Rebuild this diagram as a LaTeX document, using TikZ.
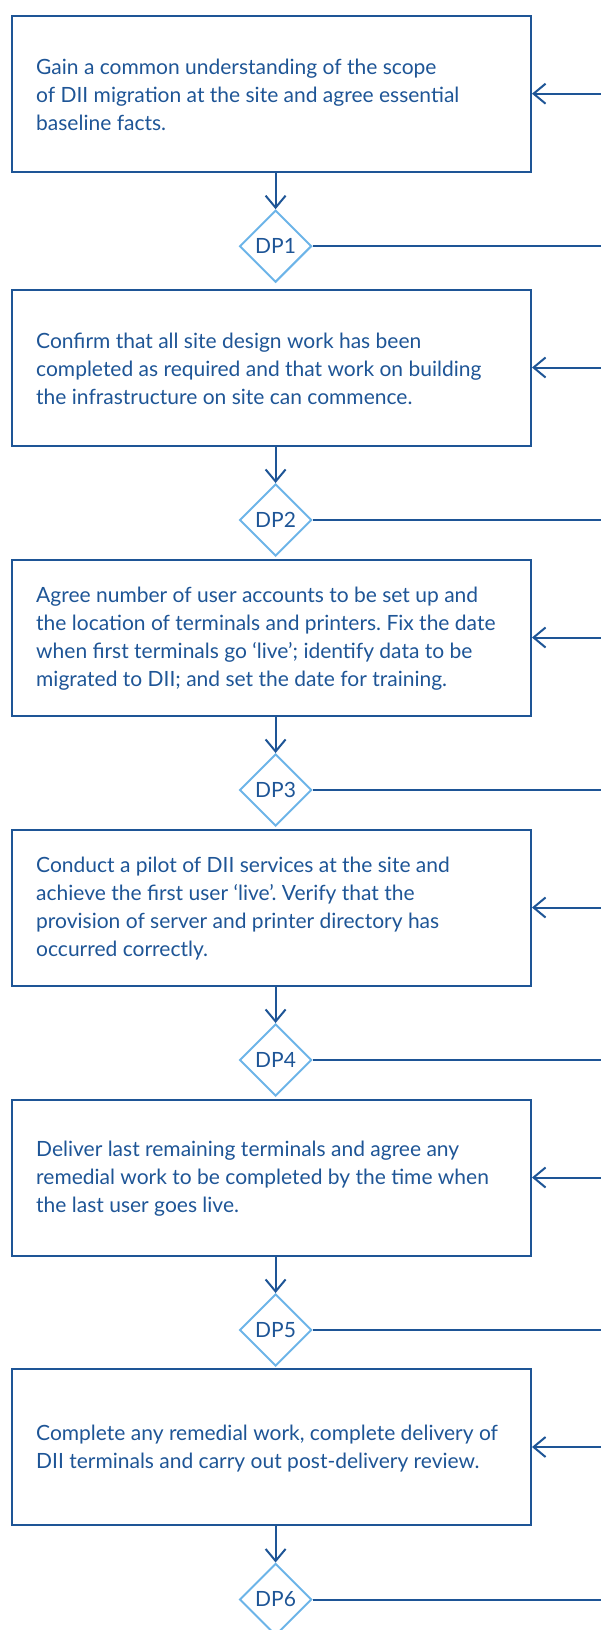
\documentclass[tikz,border=0pt]{standalone}
\usepackage{fontspec}
\setmainfont{Lato}
\frenchspacing
\usetikzlibrary{arrows.meta,shapes.geometric,calc}
\definecolor{dkblue}{RGB}{30,85,150}
\definecolor{ltblue}{RGB}{108,180,232}
\begin{document}
\begin{tikzpicture}[x=1pt,y=-1pt,
  stepbox/.style={draw=dkblue,line width=2pt,minimum width=519pt,minimum height=156pt,inner sep=0pt},
  steptext/.style={anchor=west,align=left,text=dkblue,font=\fontsize{21}{28}\selectfont\frenchspacing,inner sep=0pt},
  dpnode/.style={diamond,draw=ltblue,line width=2pt,minimum width=72pt,minimum height=72pt,inner sep=0pt,text=dkblue,font=\fontsize{21}{28}\selectfont},
  flow/.style={draw=dkblue,line width=2pt,-{Straight Barb[length=12pt,width=20pt]}},
  link/.style={draw=dkblue,line width=2pt}]
\useasboundingbox (0,0) rectangle (601,1630);
% boxes
\node[stepbox] (b1) at (271.5,93.7) {};
\node[stepbox] (b2) at (271.5,367.5) {};
\node[stepbox] (b3) at (271.5,637.5) {};
\node[stepbox] (b4) at (271.5,907.5) {};
\node[stepbox] (b5) at (271.5,1177.5) {};
\node[stepbox] (b6) at (271.5,1447) {};
% texts
\node[steptext] (t1) at (36,95.2) {Gain a common understanding of the scope\\of DII migration at the site and agree essential\\baseline facts.};
\node[steptext] (t2) at (36,369) {Confirm that all site design work has been\\completed as required and that work on building\\the infrastructure on site can commence.};
\node[steptext] (t3) at (36,639) {Agree number of user accounts to be set up and\\the location of terminals and printers. Fix the date\\when first terminals go ‘live’; identify data to be\\migrated to DII; and set the date for training.};
\node[steptext] (t4) at (36,909) {Conduct a pilot of DII services at the site and\\achieve the first user ‘live’. Verify that the\\provision of server and printer directory has\\occurred correctly.};
\node[steptext] (t5) at (36,1179) {Deliver last remaining terminals and agree any\\remedial work to be completed by the time when\\the last user goes live.};
\node[steptext] (t6) at (36,1448.5) {Complete any remedial work, complete delivery of\\DII terminals and carry out post-delivery review.};
% decision points
\node[dpnode] (d1) at (275.6,246.2) {DP1};
\node[dpnode] (d2) at (275.6,520) {DP2};
\node[dpnode] (d3) at (275.6,790) {DP3};
\node[dpnode] (d4) at (275.6,1060) {DP4};
\node[dpnode] (d5) at (275.6,1330) {DP5};
\node[dpnode] (d6) at (275.6,1599.5) {DP6};
% right edge coordinates
\coordinate (e1) at (601,93.7);
\coordinate (e2) at (601,367.5);
\coordinate (e3) at (601,637.5);
\coordinate (e4) at (601,907.5);
\coordinate (e5) at (601,1177.5);
\coordinate (e6) at (601,1447);
\coordinate (o1) at (601,246.2);
\coordinate (o2) at (601,520);
\coordinate (o3) at (601,790);
\coordinate (o4) at (601,1060);
\coordinate (o5) at (601,1330);
\coordinate (o6) at (601,1599.5);
% connectors
\foreach \i in {1,...,6}{
  \draw[flow] (b\i.south -| d\i) -- (d\i.north);
  \draw[flow] (e\i) -- (b\i.east);
  \draw[link] (d\i.east) -- (o\i);
}
\end{tikzpicture}
\end{document}
